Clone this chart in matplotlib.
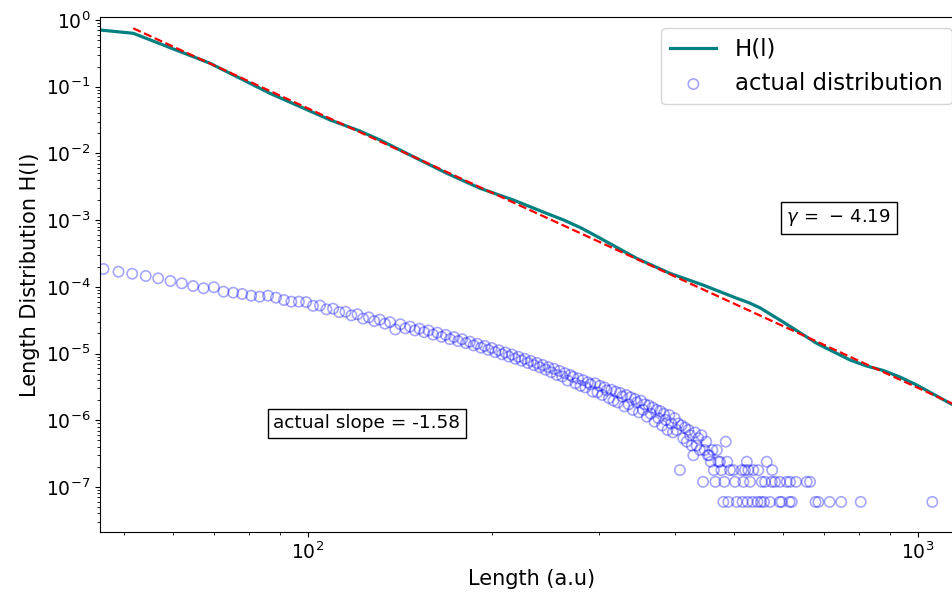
import matplotlib
matplotlib.use("Agg")
import matplotlib.pyplot as plt
import numpy as np
from matplotlib.ticker import NullFormatter

# H(l) curve
h_len = [45.6, 51.7, 69.1, 86.6, 108.7, 121.7, 131.2, 148.8, 168.8, 191.4,
         217.1, 246.2, 262.0, 279.2, 291.5, 304.9, 345.8, 392.2, 444.6, 504.5,
         527.0, 550.8, 575.0, 601.6, 682.3, 773.6, 822.0, 877.4, 935.0, 995.2,
         1128.7, 1200.0]
h_val = [0.708, 0.632, 0.224, 0.0796, 0.0317, 0.0216, 0.0159, 0.00893, 0.00504, 0.0030,
         0.0020, 0.00126, 1.01e-3, 7.76e-4, 6.31e-4, 5.03e-4, 2.67e-4, 1.59e-4, 1.06e-4, 6.73e-5,
         5.82e-5, 4.84e-5, 3.80e-5, 2.95e-5, 1.42e-5, 8.0e-6, 6.53e-6, 5.56e-6, 4.42e-6, 3.37e-6,
         1.79e-6, 1.36e-6]

# power law fit (gamma = -4.19), end points
fit_len = [51.7, 1200.0]
fit_val = [0.75, 1.42e-6]
gamma = -4.19
actual_slope = -1.58

# actual distribution: histogram counts per length bin
bin_len = [46.2, 48.9, 51.5, 54.2, 56.8, 59.5, 62.1, 64.8, 67.4, 70.1,
           72.7, 75.4, 78.0, 80.7, 83.3, 86.0, 88.6, 91.3, 93.9, 96.6,
           99.3, 101.9, 104.6, 107.2, 109.9, 112.5, 115.2, 117.8, 120.5, 123.1,
           125.8, 128.4, 131.1, 133.7, 136.3, 139.0, 141.7, 144.4, 147.0, 149.7,
           152.3, 155.0, 157.6, 160.3, 162.9, 165.6, 168.2, 170.9, 173.5, 176.2,
           178.9, 181.5, 184.2, 186.8, 189.5, 192.1, 194.8, 197.4, 200.1, 202.7,
           205.4, 208.0, 210.7, 213.3, 216.0, 218.6, 221.3, 223.9, 226.6, 229.3,
           231.9, 234.6, 237.2, 239.9, 242.5, 245.2, 247.8, 250.5, 253.1, 255.8,
           258.4, 261.1, 263.7, 266.4, 269.1, 271.7, 274.4, 277.0, 279.7, 282.3,
           285.0, 287.6, 290.3, 292.9, 295.6, 298.2, 300.9, 303.5, 306.2, 308.8,
           311.5, 314.2, 316.8, 319.5, 322.1, 324.8, 327.4, 330.1, 332.7, 335.4,
           338.0, 340.7, 343.3, 346.0, 348.6, 351.3, 354.0, 356.6, 359.3, 361.9,
           364.6, 367.2, 369.9, 372.5, 375.2, 377.8, 380.5, 383.1, 385.8, 388.4,
           391.1, 393.8, 396.4, 399.1, 401.7, 404.4, 407.0, 409.7, 412.3, 415.0,
           417.6, 420.3, 422.9, 425.6, 428.2, 430.9, 433.6, 436.2, 438.9, 441.5,
           444.2, 446.8, 449.5, 452.1, 454.8, 457.4, 460.1, 462.7, 465.4, 468.0,
           470.7]
bin_count = [3105, 2825, 2636, 2438, 2249, 2051, 1892, 1726, 1596, 1652,
             1419, 1371, 1309, 1236, 1194, 1236, 1153, 1064, 1005, 1005,
             990, 870, 880, 770, 790, 700, 710, 625, 650, 560,
             585, 515, 540, 470, 495, 385, 460, 400, 425, 372,
             395, 350, 372, 322, 345, 298, 320, 275, 296, 258,
             275, 240, 252, 222, 235, 205, 218, 190, 203, 176,
             188, 163, 174, 151, 162, 140, 150, 131, 140, 121,
             130, 112, 121, 104, 113, 96, 105, 88, 99, 80,
             92, 76, 85, 66, 80, 75, 60, 71, 55, 67,
             52, 62, 58, 45, 60, 44, 55, 40, 52, 47,
             36, 48, 33, 45, 31, 43, 38, 27, 40, 29,
             37, 24, 35, 31, 22, 33, 24, 29, 19, 28,
             21, 26, 16, 24, 18, 23, 14, 21, 17, 12,
             20, 15, 11, 18, 12, 15, 3, 14, 9, 13,
             8, 12, 10, 7, 5, 11, 7, 9, 6, 10,
             2, 6, 8, 5, 5, 4, 6, 3, 2, 6,
             4]
# sparse tail (empty bins left out)
tail_len = [473.6, 476.0, 479.6, 481.3, 483.9, 486.6, 488.7, 491.8, 498.0, 501.2,
            504.5, 514.0, 515.6, 517.2, 520.4, 524.0, 525.4, 527.0, 530.4, 535.4,
            537.0, 545.6, 547.2, 552.8, 554.3, 559.1, 561.3, 564.9, 571.9, 575.6,
            576.7, 582.8, 593.0, 593.9, 597.7, 609.1, 615.8, 616.8, 620.8, 631.0,
            657.0, 665.3, 679.2, 686.4, 716.3, 748.3, 805.4, 1055.4]
tail_count = [4, 3, 1, 2, 8, 4, 1, 3, 3, 2,
              1, 3, 1, 2, 3, 4, 1, 3, 2, 1,
              3, 1, 3, 1, 2, 1, 2, 4, 1, 2,
              3, 2, 1, 2, 1, 2, 1, 2, 1, 2,
              2, 2, 1, 1, 1, 1, 1, 1]
n_total = 16780000

dist_len = np.array(bin_len + tail_len)
dist_val = np.array(bin_count + tail_count) / n_total

fig = plt.figure(figsize=(9.52, 5.94), dpi=100)
ax = fig.add_axes([100 / 952, 62 / 594, 863 / 952, 515 / 594])

ax.plot(h_len, h_val, color='teal', lw=2.3, label='H(l)')
ax.plot(fit_len, fit_val, 'r--', lw=1.6)
ax.scatter(dist_len, dist_val, s=55, facecolors='none', edgecolors='blue',
           linewidths=1.2, alpha=0.35, label='actual distribution')

ax.set_xscale('log')
ax.set_yscale('log')
ax.set_xlim(45.6, 1185)
ax.set_ylim(2.11e-8, 1.109)
ax.xaxis.set_minor_formatter(NullFormatter())
ax.tick_params(labelsize=13.5)

ax.set_xlabel('Length (a.u)', fontsize=15)
ax.set_ylabel('Length Distribution H(l)', fontsize=15)

ax.legend(loc='upper right', fontsize=16.5)

box = dict(facecolor='white', edgecolor='black', lw=1)
ax.text(0.856, 0.61, r'$\gamma\,=\,-\,%.2f$' % abs(gamma), transform=ax.transAxes,
        ha='center', va='center', fontsize=13, bbox=box)
ax.text(0.309, 0.211, 'actual slope = %.2f' % actual_slope, transform=ax.transAxes,
        ha='center', va='center', fontsize=13.3, bbox=box)

fig.savefig('out.png', dpi=100)
